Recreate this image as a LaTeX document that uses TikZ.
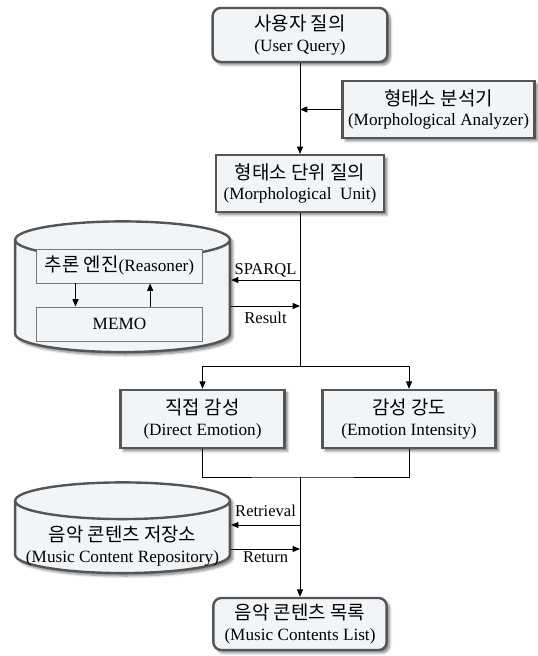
\documentclass[tikz,border=0pt]{standalone}
\usepackage{fontspec}
\setmainfont{Liberation Serif}
\newfontfamily\kr[Scale=1.1]{Noto Sans CJK KR}
\usetikzlibrary{arrows.meta,shapes.geometric,shadows.blur}

\definecolor{boxfill}{HTML}{F2F5F8}
\definecolor{boxline}{HTML}{555555}

\newcommand{\cylsize}{\phantom{(Music Content Repository)}}

\tikzset{
	box/.style={draw=boxline,line width=1.8pt,fill=boxfill,align=center,inner sep=0pt,
		font=\fontsize{12.9}{15.5}\selectfont,
		blur shadow={shadow xshift=2.2pt,shadow yshift=-2.2pt,shadow blur steps=6,shadow opacity=50}},
	rbox/.style={box,rounded corners=6pt},
	cyl/.style={box,cylinder,shape border rotate=90,aspect=0.19},
	inbox/.style={draw=boxline!80,line width=0.7pt,fill=boxfill,inner sep=0pt,
		minimum width=125pt,minimum height=25.5pt,font=\fontsize{12.9}{15}\selectfont},
	txt/.style={align=center,inner sep=0pt,font=\fontsize{12.9}{15.5}\selectfont},
	arr/.style={-{Triangle[length=5.5pt,width=4.5pt]},line width=0.65pt},
	lbl/.style={font=\fontsize{12.4}{14}\selectfont,inner sep=2pt}
}

\begin{document}
\begin{tikzpicture}[x=0.75pt,y=-0.75pt]
\useasboundingbox (0,0) rectangle (538,656);

% USER QUERY
\node[rbox,minimum width=131pt,minimum height=40.5pt] (uq) at (300,35) {{\kr 사용자 질의}\\(User Query)};

% ANALYZER
\node[box,minimum width=144pt,minimum height=42.5pt] (ma) at (438.5,109.5) {{\kr 형태소 분석기}\\(Morphological Analyzer)};
\node[box,minimum width=126pt,minimum height=42.5pt] (mu) at (300,183.5) {{\kr 형태소 단위 질의}\\(Morphological\ \ Unit)};
\coordinate (join) at (300,109.5);
\draw[arr] (uq) -- (mu);
\draw[arr] (ma) -- (join);

% REASONER
\node[cyl,minimum width=161pt,minimum height=98pt] (rdb) at (122.5,296.5) {\cylsize};
\node[inbox] (rs) at (119.5,266) {{\kr 추론 엔진}(Reasoner)};
\node[inbox] (memo) at (119.5,324) {MEMO};
\draw[arr] ([xshift=-33pt]rs.south) -- ([xshift=-33pt]memo.north);
\draw[arr] ([xshift=23pt]memo.north) -- ([xshift=23pt]rs.south);
\coordinate (sq) at (300,280);
\coordinate (rt) at (300,306);
\draw[arr] (sq) -- (sq -| rdb.east) node[lbl,midway,above]{SPARQL};
\draw[arr] (rt -| rdb.east) -- (rt) node[lbl,midway,below=2pt]{Result};

% EMOTION
\coordinate (split) at (300,366);
\node[box,minimum width=123pt,minimum height=43.5pt] (de) at (202.5,419) {{\kr 직접 감성}\\(Direct Emotion)};
\node[box,minimum width=130pt,minimum height=43.5pt] (ei) at (409,419) {{\kr 감성 강도}\\(Emotion Intensity)};
\draw[line width=0.65pt] (mu) -- (split);
\draw[arr] (split) -| (de);
\draw[arr] (split) -| (ei);
\coordinate (merge) at (300,477);
\draw[line width=0.65pt] (de) |- (merge) -| (ei);

% REPOSITORY
\node[cyl,minimum width=161pt,minimum height=68pt] (repo) at (122.5,537.5) {\cylsize};
\node[txt] (repotxt) at (122.5,546) {{\kr 음악 콘텐츠 저장소}\\(Music Content Repository)};
\node[rbox,minimum width=130pt,minimum height=39pt] (list) at (300,624) {{\kr 음악 콘텐츠 목록}\\(Music Contents List)};
\draw[arr] (merge) -- (list);
\coordinate (rv) at (300,525);
\coordinate (rn) at (300,549);
\draw[arr] (rv) -- (rv -| repo.east) node[lbl,midway,above=3.75pt]{Retrieval};
\draw[arr] (rn -| repo.east) -- (rn) node[lbl,midway,below]{Return};

\end{tikzpicture}
\end{document}
